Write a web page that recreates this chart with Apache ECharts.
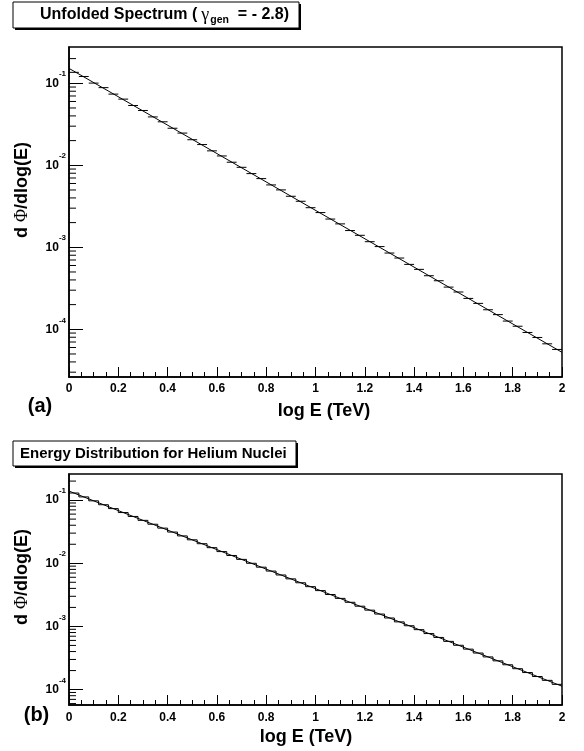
<!DOCTYPE html>
<html>
<head>
<meta charset="utf-8">
<script src="https://cdn.jsdelivr.net/npm/echarts@6/dist/echarts.min.js"></script>
<style>
  html, body { margin: 0; padding: 0; background: #fff; }
  #chart { width: 584px; height: 751px; }
</style>
</head>
<body>
<div id="chart"></div>
<script>
// bin centres and edges of log E (TeV), 50 bins of 0.04
var binCenters = [0.02, 0.06, 0.10, 0.14, 0.18, 0.22, 0.26, 0.30, 0.34, 0.38,
  0.42, 0.46, 0.50, 0.54, 0.58, 0.62, 0.66, 0.70, 0.74, 0.78,
  0.82, 0.86, 0.90, 0.94, 0.98, 1.02, 1.06, 1.10, 1.14, 1.18,
  1.22, 1.26, 1.30, 1.34, 1.38, 1.42, 1.46, 1.50, 1.54, 1.58,
  1.62, 1.66, 1.70, 1.74, 1.78, 1.82, 1.86, 1.90, 1.94, 1.98];
var binEdges = [0, 0.04, 0.08, 0.12, 0.16, 0.20, 0.24, 0.28, 0.32, 0.36,
  0.40, 0.44, 0.48, 0.52, 0.56, 0.60, 0.64, 0.68, 0.72, 0.76,
  0.80, 0.84, 0.88, 0.92, 0.96, 1.00, 1.04, 1.08, 1.12, 1.16,
  1.20, 1.24, 1.28, 1.32, 1.36, 1.40, 1.44, 1.48, 1.52, 1.56,
  1.60, 1.64, 1.68, 1.72, 1.76, 1.80, 1.84, 1.88, 1.92, 1.96, 2.00];

// (a) unfolded spectrum, d Phi / dlog(E)
var unfoldedFlux = [0.136, 0.121, 0.1005, 0.0885, 0.0738, 0.0641, 0.0536, 0.0466, 0.0389, 0.0339,
  0.0283, 0.0247, 0.0205, 0.0179, 0.0150, 0.0130, 0.0109, 0.00945, 0.00792, 0.00688,
  0.00576, 0.00501, 0.00419, 0.00364, 0.00304, 0.00265, 0.00221, 0.00193, 0.00160, 0.00140,
  0.00117, 0.00102, 0.000851, 0.000740, 0.000619, 0.000538, 0.000450, 0.000391, 0.000327, 0.000285,
  0.000238, 0.000207, 0.000173, 0.000151, 0.000126, 0.000109, 0.0000915, 0.0000795, 0.0000665, 0.0000568];
var unfoldedFit = [[0, 0.152], [2, 0.0000524]];

// (b) generated helium energy distribution
var heliumFlux = [0.1295, 0.1123, 0.0974, 0.0845, 0.0733, 0.0635, 0.0551, 0.0478, 0.0415, 0.0360,
  0.0312, 0.0271, 0.0235, 0.0204, 0.01766, 0.01531, 0.01328, 0.01152, 0.00999, 0.00867,
  0.00752, 0.00652, 0.00566, 0.00491, 0.00426, 0.00369, 0.00320, 0.00278, 0.00241, 0.00209,
  0.00181, 0.00157, 0.00136, 0.00118, 0.001025, 0.000889, 0.000771, 0.000669, 0.000580, 0.000503,
  0.000437, 0.000379, 0.000329, 0.000285, 0.000247, 0.000214, 0.000186, 0.000161, 0.000140, 0.000121];
var heliumFit = [[0, 0.139], [2, 0.000113]];

var decades = [1e-5, 1e-4, 1e-3, 1e-2, 1e-1];
var minorSteps = [2, 3, 4, 5, 6, 7, 8, 9];

var FONT = "'Liberation Sans', Arial, Helvetica, sans-serif";
var SERIF = "'Liberation Serif', 'DejaVu Serif', serif";

var rangeA = [2.62e-5, 0.277];
var rangeB = [5.7e-5, 0.259];

function minorTicks(range) {
  var out = [];
  decades.forEach(function (d) {
    minorSteps.forEach(function (k) {
      var v = d * k;
      if (v > range[0] && v < range[1]) out.push([0, v]);
    });
  });
  return out;
}

function decadeLabel(v) {
  var e = Math.log10(v);
  var r = Math.round(e);
  if (Math.abs(e - r) > 1e-6) return '';
  return '{b|10}{s|' + r + '}';
}

function xAxisFor(gridIndex, margin) {
  return {
    type: 'value', gridIndex: gridIndex, min: 0, max: 2, interval: 0.2,
    axisLine: { show: true, lineStyle: { color: '#000', width: 1.5 } },
    axisTick: { show: true, inside: true, length: 10, lineStyle: { color: '#000' } },
    minorTick: { show: true, splitNumber: 4, length: 5, lineStyle: { color: '#000' } },
    splitLine: { show: false },
    axisLabel: { margin: margin, color: '#000', fontFamily: FONT, fontWeight: 'bold', fontSize: 12 }
  };
}

function yAxisFor(gridIndex, range) {
  return {
    type: 'log', logBase: 10, gridIndex: gridIndex, min: range[0], max: range[1], splitNumber: 4,
    axisLine: { show: true, lineStyle: { color: '#000', width: 1.5 } },
    axisTick: { show: true, inside: true, length: 14, lineStyle: { color: '#000' } },
    splitLine: { show: false },
    axisLabel: {
      margin: 3, showMinLabel: false, showMaxLabel: false,
      formatter: decadeLabel,
      rich: {
        b: { fontFamily: FONT, fontWeight: 'bold', fontSize: 12, color: '#000', lineHeight: 26 },
        s: { fontFamily: FONT, fontWeight: 'bold', fontSize: 8, color: '#000', lineHeight: 8, verticalAlign: 'top' }
      }
    }
  };
}

function tickSeries(idx, range) {
  return {
    type: 'custom', xAxisIndex: idx, yAxisIndex: idx, silent: true,
    data: minorTicks(range),
    renderItem: function (params, api) {
      var p = api.coord([api.value(0), api.value(1)]);
      return {
        type: 'line',
        shape: { x1: p[0], y1: p[1], x2: p[0] + 7, y2: p[1] },
        style: { stroke: '#000', lineWidth: 1 }
      };
    }
  };
}

function titleBox(x, y, w, h, textEl) {
  return [
    { type: 'rect', shape: { x: x + 2, y: y + 2, width: w, height: h }, style: { fill: '#000' } },
    { type: 'rect', shape: { x: x, y: y, width: w, height: h }, style: { fill: '#fff', stroke: '#000', lineWidth: 1 } },
    textEl
  ];
}

var chart = echarts.init(document.getElementById('chart'), null, { renderer: 'canvas' });

var option = {
  backgroundColor: '#fff',
  animation: false,
  grid: [
    { left: 69, top: 47, width: 493, height: 330, show: true, borderColor: '#000', borderWidth: 1.5, backgroundColor: 'transparent' },
    { left: 69, top: 474, width: 493, height: 231, show: true, borderColor: '#000', borderWidth: 1.5, backgroundColor: 'transparent' }
  ],
  xAxis: [xAxisFor(0, 6), xAxisFor(1, 7)],
  yAxis: [yAxisFor(0, rangeA), yAxisFor(1, rangeB)],
  series: [
    tickSeries(0, rangeA),
    tickSeries(1, rangeB),
    {
      type: 'custom', xAxisIndex: 0, yAxisIndex: 0, silent: true,
      data: binCenters.map(function (c, i) { return [c, unfoldedFlux[i]]; }),
      renderItem: function (params, api) {
        var a = api.coord([api.value(0) - 0.02, api.value(1)]);
        var b = api.coord([api.value(0) + 0.02, api.value(1)]);
        return {
          type: 'line',
          shape: { x1: a[0], y1: a[1], x2: b[0], y2: b[1] },
          style: { stroke: '#000', lineWidth: 1 }
        };
      }
    },
    {
      type: 'line', xAxisIndex: 0, yAxisIndex: 0, data: unfoldedFit,
      symbol: 'none', silent: true, lineStyle: { color: '#000', width: 1 }
    },
    {
      type: 'line', xAxisIndex: 1, yAxisIndex: 1, step: 'end',
      data: binEdges.map(function (e, i) { return [e, heliumFlux[Math.min(i, heliumFlux.length - 1)]]; }),
      symbol: 'none', silent: true, lineStyle: { color: '#000', width: 1 }
    },
    {
      type: 'line', xAxisIndex: 1, yAxisIndex: 1, data: heliumFit,
      symbol: 'none', silent: true, lineStyle: { color: '#000', width: 1 }
    }
  ],
  graphic: [].concat(
    titleBox(13, 2, 286, 26, {
      type: 'text', x: 40, y: 15,
      style: {
        text: '{t|Unfolded Spectrum (}{g|γ}{sub|gen}{t|  = - 2.8)}',
        verticalAlign: 'middle', align: 'left',
        rich: {
          t: { fontFamily: FONT, fontWeight: 'bold', fontSize: 16, fill: '#000', lineHeight: 22 },
          g: { fontFamily: SERIF, fontSize: 18, fill: '#000', lineHeight: 22, padding: [0, 1, 0, 4] },
          sub: { fontFamily: FONT, fontWeight: 'bold', fontSize: 10.5, fill: '#000', lineHeight: 12, verticalAlign: 'bottom' }
        }
      }
    }),
    titleBox(13, 441, 283, 25, {
      type: 'text', x: 20, y: 453.5,
      style: {
        text: 'Energy Distribution for Helium Nuclei',
        font: 'bold 15px ' + FONT, fill: '#000', verticalAlign: 'middle', align: 'left'
      }
    }),
    [
      { type: 'text', x: 22, y: 190, rotation: Math.PI / 2,
        style: { text: 'd {p|Φ}/dlog(E)', font: 'bold 18px ' + FONT, fill: '#000', align: 'center', verticalAlign: 'middle',
          rich: { p: { fontFamily: SERIF, fontSize: 18, fill: '#000' } } } },
      { type: 'text', x: 22, y: 577, rotation: Math.PI / 2,
        style: { text: 'd {p|Φ}/dlog(E)', font: 'bold 18px ' + FONT, fill: '#000', align: 'center', verticalAlign: 'middle',
          rich: { p: { fontFamily: SERIF, fontSize: 18, fill: '#000' } } } },
      { type: 'text', x: 324, y: 411,
        style: { text: 'log E (TeV)', font: 'bold 18px ' + FONT, fill: '#000', align: 'center', verticalAlign: 'middle' } },
      { type: 'text', x: 306, y: 737,
        style: { text: 'log E (TeV)', font: 'bold 18px ' + FONT, fill: '#000', align: 'center', verticalAlign: 'middle' } },
      { type: 'text', x: 40, y: 406,
        style: { text: '(a)', font: 'bold 20px ' + FONT, fill: '#000', align: 'center', verticalAlign: 'middle' } },
      { type: 'text', x: 36.5, y: 715,
        style: { text: '(b)', font: 'bold 20px ' + FONT, fill: '#000', align: 'center', verticalAlign: 'middle' } }
    ]
  )
};

chart.setOption(option);
</script>
</body>
</html>
